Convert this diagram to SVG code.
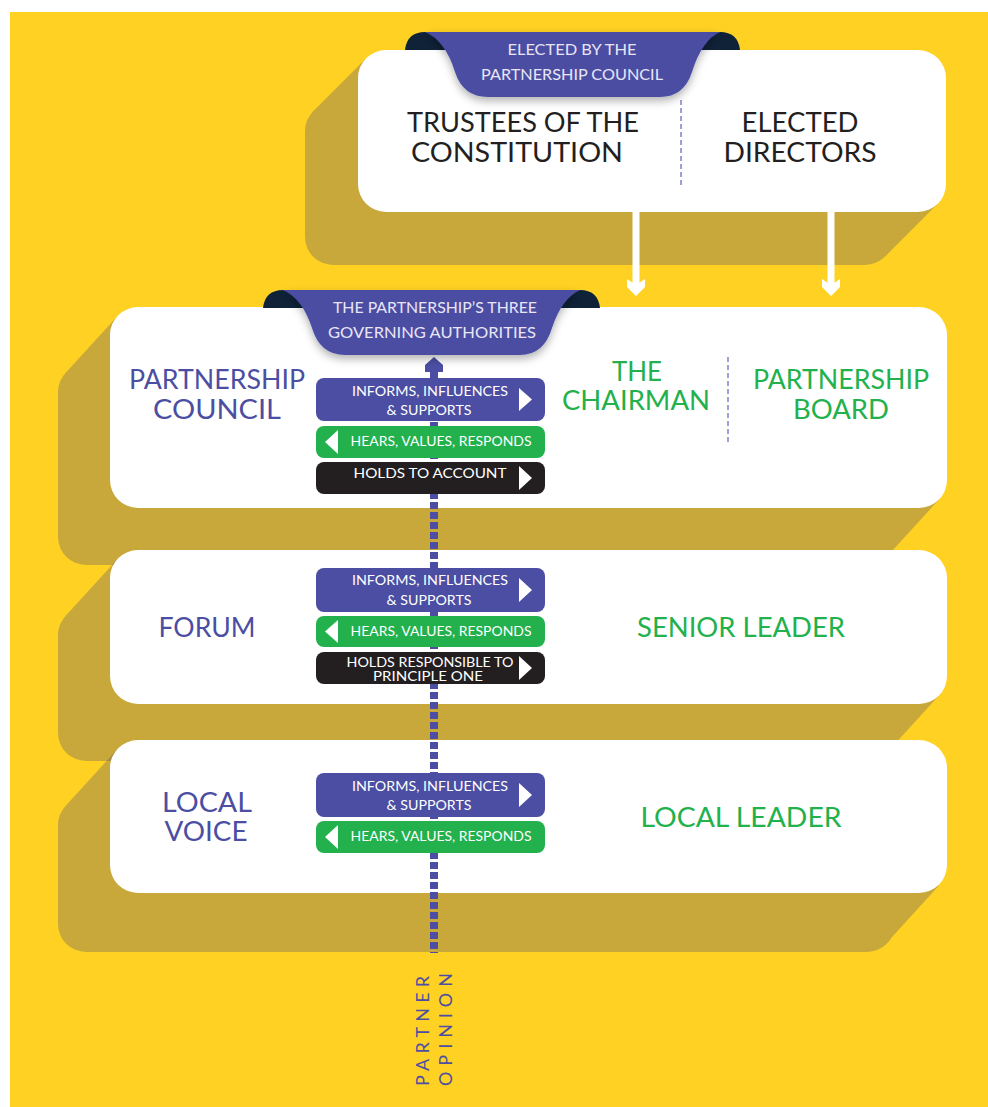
<svg xmlns="http://www.w3.org/2000/svg" width="988" height="1107" viewBox="0 0 988 1107">
<defs>
<style>
.t{font-family:Lato,"Open Sans","Liberation Sans",sans-serif;text-anchor:middle}
.big{font-size:27px}
.rib{font-size:15px;fill:#E8E6F6}
.btn{font-size:13px;fill:#FFFFFF}
.pur{fill:#4B4EA2}
.grn{fill:#22B14C}
.blk{fill:#231F20}
.box{fill:#FFFFFF}
.sh{fill:#514C75}
.tri{fill:#FFFFFF}
</style>
<filter id="ds" x="-20%" y="-30%" width="140%" height="170%">
<feDropShadow dx="0" dy="4" stdDeviation="4" flood-color="#000" flood-opacity="0.3"/>
</filter>
</defs>
<rect x="0" y="0" width="988" height="1107" fill="#FFFFFF"/>
<rect x="10" y="12" width="978" height="1095" fill="#FED122"/>

<!-- top box -->
<g id="top-box">
<g opacity="0.3">
<rect class="sh" x="305" y="103" width="588" height="162" rx="28"/>
<polygon class="sh" points="366.2,58.2 313.2,111.2 884.8,256.8 937.8,203.8"/>
</g>
<rect class="box" x="358" y="50" width="588" height="162" rx="28"/>
<line x1="681" y1="100" x2="681" y2="186" stroke="#6A6FC0" stroke-width="1.3" stroke-dasharray="5 3"/>
<text class="t big blk" x="523" y="132" textLength="232" lengthAdjust="spacingAndGlyphs">TRUSTEES OF THE</text>
<text class="t big blk" x="517" y="162" textLength="212" lengthAdjust="spacingAndGlyphs">CONSTITUTION</text>
<text class="t big blk" x="800" y="132" textLength="117" lengthAdjust="spacingAndGlyphs">ELECTED</text>
<text class="t big blk" x="800" y="162" textLength="153" lengthAdjust="spacingAndGlyphs">DIRECTORS</text>
</g>
<g id="ribbon-elected">
<path d="M405,50 Q407,32 425,32 Q440,33 447,50 Z" fill="#0F2238"/>
<path d="M740,50 Q738,32 720,32 Q705,33 698,50 Z" fill="#0F2238"/>
<path filter="url(#ds)" d="M425,32 H720 Q702,40 692,72 Q684,97 660,97 H488 Q463,97 455,72 Q445,40 425,32 Z" fill="#4B4EA2"/>
<text class="t rib" x="572" y="55" textLength="129" lengthAdjust="spacingAndGlyphs">ELECTED BY THE</text>
<text class="t rib" x="572" y="80" textLength="182" lengthAdjust="spacingAndGlyphs">PARTNERSHIP COUNCIL</text>
</g>

<!-- box 2 -->
<g id="box-council">
<g opacity="0.3">
<rect class="sh" x="58" y="364" width="837" height="201" rx="28"/>
<polygon class="sh" points="118.2,315.2 66.2,372.2 886.8,556.8 938.8,499.8"/>
</g>
<rect class="box" x="110" y="307" width="837" height="201" rx="28"/>
<line x1="728" y1="357" x2="728" y2="442" stroke="#6A6FC0" stroke-width="1.3" stroke-dasharray="5 3"/>
<text class="t big pur" x="217" y="389" textLength="176" lengthAdjust="spacingAndGlyphs">PARTNERSHIP</text>
<text class="t big pur" x="217" y="419" textLength="128" lengthAdjust="spacingAndGlyphs">COUNCIL</text>
<text class="t big grn" x="637" y="381" textLength="50" lengthAdjust="spacingAndGlyphs">THE</text>
<text class="t big grn" x="636" y="410" textLength="148" lengthAdjust="spacingAndGlyphs">CHAIRMAN</text>
<text class="t big grn" x="841" y="389" textLength="176" lengthAdjust="spacingAndGlyphs">PARTNERSHIP</text>
<text class="t big grn" x="841" y="419" textLength="96" lengthAdjust="spacingAndGlyphs">BOARD</text>
</g>

<!-- box 3 -->
<g id="box-forum">
<g opacity="0.3">
<rect class="sh" x="58" y="607" width="837" height="154" rx="28"/>
<polygon class="sh" points="118.2,558.2 66.2,615.2 886.8,752.8 938.8,695.8"/>
</g>
<rect class="box" x="110" y="550" width="837" height="154" rx="28"/>
<text class="t big pur" x="207" y="637" textLength="97" lengthAdjust="spacingAndGlyphs">FORUM</text>
<text class="t big grn" x="741" y="637" textLength="208" lengthAdjust="spacingAndGlyphs">SENIOR LEADER</text>
</g>

<!-- box 4 -->
<g id="box-local">
<g opacity="0.3">
<rect class="sh" x="58" y="797" width="837" height="155" rx="28"/>
<polygon class="sh" points="118.2,748.2 66.2,805.2 886.8,942.8 938.8,885.8"/>
</g>
<rect class="box" x="110" y="740" width="837" height="153" rx="28"/>
<text class="t big pur" x="207" y="812" textLength="90" lengthAdjust="spacingAndGlyphs">LOCAL</text>
<text class="t big pur" x="206" y="841" textLength="83" lengthAdjust="spacingAndGlyphs">VOICE</text>
<text class="t big grn" x="741" y="827" textLength="201" lengthAdjust="spacingAndGlyphs">LOCAL LEADER</text>
</g>

<!-- connectors -->
<g id="connectors">
<line x1="636" y1="212" x2="636" y2="286" stroke="#FFFFFF" stroke-width="7"/>
<polygon points="627,279 636,285 645,279 645,287 636,296 627,287" fill="#FFFFFF"/>
<line x1="831" y1="212" x2="831" y2="286" stroke="#FFFFFF" stroke-width="7"/>
<polygon points="822,279 831,285 840,279 840,287 831,296 822,287" fill="#FFFFFF"/>
<line x1="434" y1="372" x2="434" y2="953" stroke="#4B4EA2" stroke-width="8" stroke-dasharray="7 3"/>
<polygon points="434,357 443,365 443,372 425,372 425,365" fill="#4B4EA2"/>
</g>

<g id="ribbon-authorities">
<path d="M263,308 Q265,290 283,290 Q298,291 305,308 Z" fill="#0F2238"/>
<path d="M600,308 Q598,290 580,290 Q565,291 558,308 Z" fill="#0F2238"/>
<path filter="url(#ds)" d="M283,290 H580 Q562,298 552,328 Q544,355 520,355 H345 Q320,355 312,328 Q302,298 283,290 Z" fill="#4B4EA2"/>
<text class="t rib" x="435" y="313" textLength="204" lengthAdjust="spacingAndGlyphs">THE PARTNERSHIP’S THREE</text>
<text class="t rib" x="432" y="338" textLength="208" lengthAdjust="spacingAndGlyphs">GOVERNING AUTHORITIES</text>
</g>

<!-- buttons box 2 -->
<g id="btn-council-informs">
<rect x="316" y="378" width="229" height="43" rx="8" fill="#4B4EA2"/>
<polygon class="tri" points="519,388 532,399.5 519,411"/>
<text class="t btn" x="430" y="396" textLength="156" lengthAdjust="spacingAndGlyphs">INFORMS, INFLUENCES</text>
<text class="t btn" x="429" y="415" textLength="85" lengthAdjust="spacingAndGlyphs">&amp; SUPPORTS</text>
</g>
<g id="btn-council-hears">
<rect x="316" y="426" width="229" height="32" rx="8" fill="#22B14C"/>
<polygon class="tri" points="338,430 325,442 338,454"/>
<text class="t btn" x="441" y="446" textLength="181" lengthAdjust="spacingAndGlyphs">HEARS, VALUES, RESPONDS</text>
</g>
<g id="btn-council-holds">
<rect x="316" y="462" width="229" height="32" rx="8" fill="#231F20"/>
<polygon class="tri" points="519,466 532,478 519,490"/>
<text class="t btn" x="430" y="478" textLength="153" lengthAdjust="spacingAndGlyphs">HOLDS TO ACCOUNT</text>
</g>

<!-- buttons box 3 -->
<g id="btn-forum-informs">
<rect x="316" y="568" width="229" height="44" rx="8" fill="#4B4EA2"/>
<polygon class="tri" points="519,578 532,590 519,602"/>
<text class="t btn" x="430" y="585" textLength="156" lengthAdjust="spacingAndGlyphs">INFORMS, INFLUENCES</text>
<text class="t btn" x="429" y="605" textLength="85" lengthAdjust="spacingAndGlyphs">&amp; SUPPORTS</text>
</g>
<g id="btn-forum-hears">
<rect x="316" y="616" width="229" height="31" rx="8" fill="#22B14C"/>
<polygon class="tri" points="338,620 325,631.5 338,643"/>
<text class="t btn" x="441" y="636" textLength="181" lengthAdjust="spacingAndGlyphs">HEARS, VALUES, RESPONDS</text>
</g>
<g id="btn-forum-holds">
<rect x="316" y="652" width="229" height="32" rx="8" fill="#231F20"/>
<polygon class="tri" points="519,656 532,668 519,680"/>
<text class="t btn" x="430" y="667" textLength="167" lengthAdjust="spacingAndGlyphs">HOLDS RESPONSIBLE TO</text>
<text class="t btn" x="428" y="681" textLength="110" lengthAdjust="spacingAndGlyphs">PRINCIPLE ONE</text>
</g>

<!-- buttons box 4 -->
<g id="btn-local-informs">
<rect x="316" y="773" width="229" height="44" rx="8" fill="#4B4EA2"/>
<polygon class="tri" points="519,783 532,795 519,807"/>
<text class="t btn" x="430" y="791" textLength="156" lengthAdjust="spacingAndGlyphs">INFORMS, INFLUENCES</text>
<text class="t btn" x="429" y="810" textLength="85" lengthAdjust="spacingAndGlyphs">&amp; SUPPORTS</text>
</g>
<g id="btn-local-hears">
<rect x="316" y="821" width="229" height="32" rx="8" fill="#22B14C"/>
<polygon class="tri" points="338,825 325,837 338,849"/>
<text class="t btn" x="441" y="841" textLength="181" lengthAdjust="spacingAndGlyphs">HEARS, VALUES, RESPONDS</text>
</g>

<g id="partner-opinion">
<text class="pur" font-family="Lato,'Open Sans','Liberation Sans',sans-serif" font-size="18" transform="translate(429,1086) rotate(-90)" textLength="110" lengthAdjust="spacing">PARTNER</text>
<text class="pur" font-family="Lato,'Open Sans','Liberation Sans',sans-serif" font-size="18" transform="translate(452,1086) rotate(-90)" textLength="113" lengthAdjust="spacing">OPINION</text>
</g>
</svg>
